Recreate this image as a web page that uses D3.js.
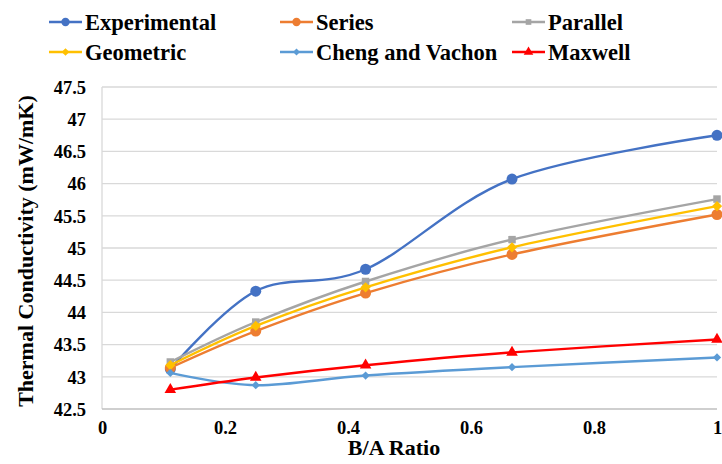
<!DOCTYPE html>
<html>
<head>
<meta charset="utf-8">
<script src="https://cdn.jsdelivr.net/npm/d3@7"></script>
<style>
  html, body { margin: 0; padding: 0; background: #fff; }
  svg { display: block; }
</style>
</head>
<body>
<svg id="chart" width="722" height="464"></svg>
<script>
// ---- data ----
const xValues = [0.1111, 0.25, 0.4286, 0.6667, 1];
const seriesNames = ["Experimental", "Series", "Parallel", "Geometric", "Cheng and Vachon", "Maxwell"];
const experimental = [43.12, 44.33, 44.67, 46.07, 46.75];
const seriesModel  = [43.14, 43.71, 44.30, 44.90, 45.52];
const parallel     = [43.23, 43.85, 44.48, 45.13, 45.76];
const geometric    = [43.18, 43.79, 44.39, 45.01, 45.65];
const chengVachon  = [43.06, 42.87, 43.02, 43.15, 43.30];
const maxwell      = [42.80, 42.99, 43.18, 43.38, 43.58];
const yTicks = [42.5, 43, 43.5, 44, 44.5, 45, 45.5, 46, 46.5, 47, 47.5];
const yTickLabels = ["42.5", "43", "43.5", "44", "44.5", "45", "45.5", "46", "46.5", "47", "47.5"];
const xTicks = [0, 0.2, 0.4, 0.6, 0.8, 1];
const xTickLabels = ["0", "0.2", "0.4", "0.6", "0.8", "1"];
const xTitle = "B/A Ratio";
const yTitle = "Thermal Conductivity (mW/mK)";

// ---- styles ----
const FONT = "'Liberation Serif', 'Times New Roman', 'DejaVu Serif', serif";
const colors = ["#4472C4", "#ED7D31", "#A5A5A5", "#FFC000", "#5B9BD5", "#FF0000"];
const allValues = [experimental, seriesModel, parallel, geometric, chengVachon, maxwell];

const diamond = () => ({ draw(ctx, size) { const r = Math.sqrt(size) / 2 * Math.SQRT2; ctx.moveTo(0, -r); ctx.lineTo(r, 0); ctx.lineTo(0, r); ctx.lineTo(-r, 0); ctx.closePath(); } });
const markers = [
  { type: d3.symbolCircle, size: 95 },
  { type: d3.symbolCircle, size: 95 },
  { type: d3.symbolSquare, size: 56 },
  { type: diamond(), size: 52 },
  { type: diamond(), size: 34 },
  { type: d3.symbolTriangle, size: 58 }
];
const legendMarkers = [
  { type: d3.symbolCircle, size: 55 },
  { type: d3.symbolCircle, size: 55 },
  { type: d3.symbolSquare, size: 32 },
  { type: diamond(), size: 30 },
  { type: diamond(), size: 24 },
  { type: d3.symbolTriangle, size: 40 }
];

const svg = d3.select("#chart");
svg.append("rect").attr("width", 722).attr("height", 464).attr("fill", "#fff");

const x = d3.scaleLinear().domain([0, 1]).range([102, 717]);
const y = d3.scaleLinear().domain([42.5, 47.5]).range([409, 87]);

// gridlines
svg.append("g").selectAll("line").data(yTicks.slice(1)).join("line")
  .attr("x1", x(0)).attr("x2", x(1))
  .attr("y1", d => y(d)).attr("y2", d => y(d))
  .attr("stroke", "#D9D9D9").attr("stroke-width", 1.3);

// axis lines
svg.append("line").attr("x1", x(0)).attr("x2", x(0)).attr("y1", y(47.5)).attr("y2", y(42.5))
  .attr("stroke", "#D9D9D9").attr("stroke-width", 1.3);
svg.append("line").attr("x1", x(0)).attr("x2", x(1)).attr("y1", y(42.5)).attr("y2", y(42.5))
  .attr("stroke", "#BFBFBF").attr("stroke-width", 1.3);

function styleText(sel, size) {
  sel.style("font-family", FONT).style("font-weight", "bold").style("font-size", size + "px")
    .attr("fill", "#000");
}

// y axis
const yAxis = svg.append("g").attr("transform", `translate(${x(0)},0)`)
  .call(d3.axisLeft(y).tickValues(yTicks).tickSize(0).tickPadding(16)
    .tickFormat((d, i) => yTickLabels[i]));
yAxis.select(".domain").remove();
yAxis.attr("font-family", null).attr("font-size", null);
styleText(yAxis.selectAll("text").attr("dy", "0.34em"), 18.5);

// x axis
const xAxis = svg.append("g").attr("transform", `translate(0,${y(42.5)})`)
  .call(d3.axisBottom(x).tickValues(xTicks).tickSize(0).tickPadding(12)
    .tickFormat((d, i) => xTickLabels[i]));
xAxis.select(".domain").remove();
xAxis.attr("font-family", null).attr("font-size", null);
styleText(xAxis.selectAll("text"), 18.5);

// titles
styleText(svg.append("text").attr("x", 394).attr("y", 455).attr("text-anchor", "middle").text(xTitle), 22);
styleText(svg.append("text").attr("transform", "translate(33,251) rotate(-90)").attr("text-anchor", "middle").text(yTitle), 22);

// series
const line = d3.line().x((d, i) => x(xValues[i])).y(d => y(d)).curve(d3.curveCatmullRom.alpha(0));
allValues.forEach((vals, k) => {
  const g = svg.append("g");
  g.append("path").attr("d", line(vals)).attr("fill", "none")
    .attr("stroke", colors[k]).attr("stroke-width", 2.4);
  g.selectAll("path.m").data(vals).join("path").attr("class", "m")
    .attr("transform", (d, i) => `translate(${x(xValues[i])},${y(d)})`)
    .attr("d", d3.symbol().type(markers[k].type).size(markers[k].size))
    .attr("fill", colors[k]);
});

// legend
const legCols = [49, 280, 512];
const legRows = [22, 52];
seriesNames.forEach((name, k) => {
  const cx = legCols[k % 3], cy = legRows[Math.floor(k / 3)];
  const g = svg.append("g").attr("transform", `translate(${cx},${cy})`);
  g.append("line").attr("x1", 0).attr("x2", 33).attr("y1", 0).attr("y2", 0)
    .attr("stroke", colors[k]).attr("stroke-width", 2.4);
  g.append("path").attr("transform", "translate(16.5,0)")
    .attr("d", d3.symbol().type(legendMarkers[k].type).size(legendMarkers[k].size))
    .attr("fill", colors[k]);
  styleText(g.append("text").attr("x", 36).attr("y", 7.5).text(name), 22.5);
});
</script>
</body>
</html>
